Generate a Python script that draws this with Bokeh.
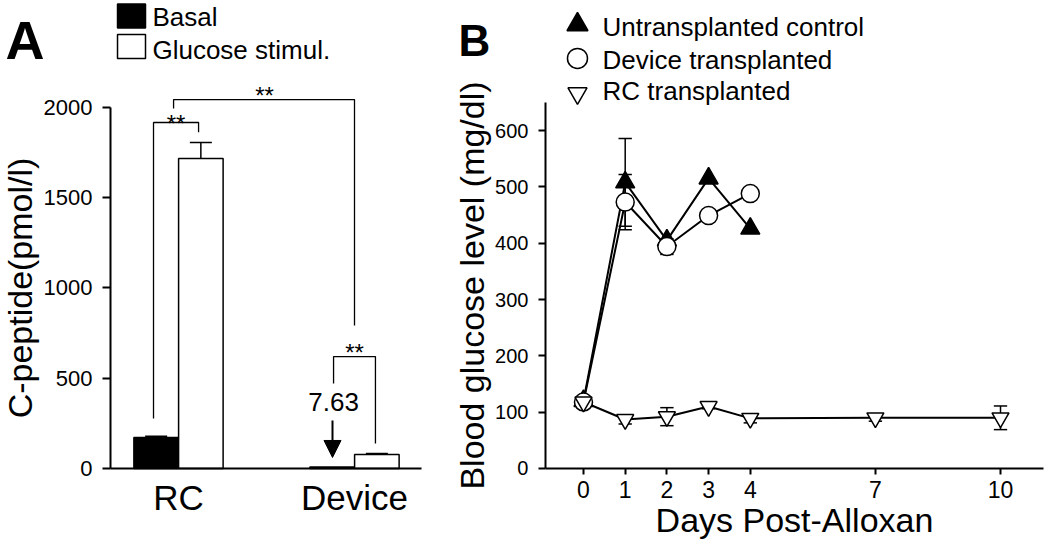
from bokeh.plotting import figure
from bokeh.layouts import row
from bokeh.models import Range1d, FixedTicker, Arrow, NormalHead
from bokeh.core.properties import value
from bokeh.embed import file_html
from bokeh.resources import INLINE

FONT = "Liberation Sans"

# ---------------- Panel A data ----------------
groups = ["RC", "Device"]
group_pos = [1, 2]
basal = [172, 7.63]
basal_err = [6, 0]
glucose = [1717, 78]
glucose_err = [89, 5]
a_yticks = [0, 500, 1000, 1500, 2000]
basal_label = "7.63"

# ---------------- Panel B data ----------------
days_ctrl = [0, 1, 2, 3, 4]
ctrl = [120, 508, 405, 515, 426]
ctrl_err = [0, 78, 0, 0, 0]
days_dev = [0, 1, 2, 3, 4]
dev = [118, 473, 394, 449, 488]
dev_err = [0, 49, 14, 0, 0]
days_rc = [0, 1, 2, 3, 4, 7, 10]
rc = [118, 87, 92, 110, 89, 90, 90]
rc_err = [5, 8, 16, 4, 8, 6, 21]
b_xticks = [0, 1, 2, 3, 4, 7, 10]
b_yticks = [0, 100, 200, 300, 400, 500, 600]

H = 549

def style_common(p):
    p.outline_line_color = None
    p.xgrid.visible = False
    p.ygrid.visible = False
    p.background_fill_color = "white"
    p.border_fill_color = "white"
    p.min_border = 0
    p.min_border_left = 0
    p.min_border_right = 0
    p.min_border_top = 0
    p.min_border_bottom = 0
    for ax in p.axis:
        ax.axis_line_width = 2
        ax.axis_line_color = "black"
        ax.major_tick_line_width = 2
        ax.major_tick_line_color = "black"
        ax.minor_tick_line_color = None
        ax.major_tick_in = 0
        ax.major_label_text_font = FONT
        ax.major_label_text_color = "black"
        ax.axis_label_text_font = FONT
        ax.axis_label_text_font_style = "normal"
        ax.axis_label_text_color = "black"

# ================= Panel A =================
pA = figure(width=440, height=H, output_backend="svg", toolbar_location=None,
            x_range=Range1d(-0.01136, 2.4886), y_range=Range1d(-448.8, 2592.8))
style_common(pA)

off = 0.127
bw = 0.253
xb = [g - off for g in group_pos]
xg = [g + off for g in group_pos]
pA.vbar(x=xb, top=basal, width=bw, fill_color="black", line_color="black", line_width=1.5)
pA.vbar(x=xg, top=glucose, width=bw, fill_color="white", line_color="black", line_width=1.5)

# error bars (upward)
cap = 0.0625
ex, ey0, ey1 = [], [], []
cx0, cx1, cy = [], [], []
for xs, vals, errs in ((xb, basal, basal_err), (xg, glucose, glucose_err)):
    for x, v, e in zip(xs, vals, errs):
        if e > 0:
            ex.append(x); ey0.append(v); ey1.append(v + e)
            cx0.append(x - cap); cx1.append(x + cap); cy.append(v + e)
pA.segment(x0=ex, y0=ey0, x1=ex, y1=ey1, line_color="black", line_width=1.5)
pA.segment(x0=cx0, y0=cy, x1=cx1, y1=cy, line_color="black", line_width=1.5)

# significance brackets
br_xs = [[0.858, 0.858, 1.114, 1.114],
         [0.972, 0.972, 2.0, 2.0],
         [1.881, 1.881, 2.119, 2.119]]
br_ys = [[277, 1917, 1917, 1863],
         [1995, 2044, 2044, 792],
         [471, 620, 620, 138]]
pA.multi_line(xs=br_xs, ys=br_ys, line_color="black", line_width=1.3)
pA.text(x=[0.986, 1.489, 2.0], y=[1914, 2064, 640], text=["**", "**", "**"],
        text_font=value(FONT), text_font_size="24px", text_align="center",
        text_baseline="middle", text_color="black")

# arrow + value label for the tiny basal bar
pA.add_layout(Arrow(end=NormalHead(size=17, fill_color="black", line_color="black"),
                    x_start=1.875, y_start=266, x_end=1.875, y_end=61,
                    line_color="black", line_width=2))
pA.text(x=[1.881], y=[366], text=[basal_label], text_font=value(FONT),
        text_font_size="26px", text_align="center", text_baseline="middle",
        text_color="black")

# legend A
pA.rect(x=[0.733, 0.733], y=[2507, 2338], width=0.159, height=133,
        fill_color=["black", "white"], line_color="black", line_width=1.5)
pA.text(x=[0.852, 0.852], y=[2499, 2321], text=["Basal", "Glucose stimul."],
        text_font=value(FONT), text_font_size="26px", text_baseline="middle",
        text_color="black")

# panel letter
pA.text(x=[0.017], y=[2374], text=["A"], text_font=value(FONT), text_font_size="54px",
        text_font_style="bold", text_color="black", text_baseline="middle")

pA.yaxis.fixed_location = 0.6136
pA.yaxis.ticker = FixedTicker(ticks=a_yticks)
pA.yaxis.bounds = (0, 2000)
pA.yaxis.major_tick_out = 8
pA.yaxis.major_label_standoff = 10
pA.yaxis.major_label_text_font_size = "22px"
pA.yaxis.axis_label = "C-peptide(pmol/l)"
pA.yaxis.axis_label_text_font_size = "34px"
pA.yaxis.axis_label_standoff = 2

pA.xaxis.fixed_location = 0
pA.xaxis.ticker = FixedTicker(ticks=group_pos)
pA.xaxis.major_label_overrides = {1: groups[0], 2: groups[1]}
pA.xaxis.bounds = (0.6136, 2.38)
pA.xaxis.major_tick_out = 0
pA.xaxis.major_label_standoff = 10
pA.xaxis.major_label_text_font_size = "35px"

# ================= Panel B =================
pB = figure(width=610, height=H, output_backend="svg", toolbar_location=None,
            x_range=Range1d(-3.429, 11.199), y_range=Range1d(-143.8, 830.8))
style_common(pB)

pB.line(days_ctrl, ctrl, line_color="black", line_width=2)
pB.line(days_dev, dev, line_color="black", line_width=2)
pB.line(days_rc, rc, line_color="black", line_width=2)

bcap = 0.16
sx, sy0, sy1, kx0, kx1, ky = [], [], [], [], [], []
for ds, vals, errs in ((days_ctrl, ctrl, ctrl_err), (days_dev, dev, dev_err), (days_rc, rc, rc_err)):
    for d, v, e in zip(ds, vals, errs):
        if e > 0:
            sx.append(d); sy0.append(v - e); sy1.append(v + e)
            kx0 += [d - bcap, d - bcap]; kx1 += [d + bcap, d + bcap]; ky += [v - e, v + e]
pB.segment(x0=sx, y0=sy0, x1=sx, y1=sy1, line_color="black", line_width=1.5)
pB.segment(x0=kx0, y0=ky, x1=kx1, y1=ky, line_color="black", line_width=1.5)

pB.scatter(days_ctrl, ctrl, marker="triangle", size=19, fill_color="black", line_color="black", line_width=1.5)
pB.scatter(days_dev, dev, marker="circle", size=18, fill_color="white", line_color="black", line_width=1.5)
pB.scatter(days_rc, rc, marker="inverted_triangle", size=17, fill_color="white", line_color="black", line_width=1.5)

# legend B
pB.scatter([-0.144], [788], marker="triangle", size=21, fill_color="black", line_color="black", line_width=1.5)
pB.scatter([-0.144], [728], marker="circle", size=20, fill_color="white", line_color="black", line_width=1.5)
pB.scatter([-0.144], [666], marker="inverted_triangle", size=19, fill_color="white", line_color="black", line_width=1.5)
pB.text(x=[0.456, 0.456, 0.456], y=[783, 726, 671],
        text=["Untransplanted control", "Device transplanted", "RC transplanted"],
        text_font=value(FONT), text_font_size="26px", text_baseline="middle", text_color="black")

pB.text(x=[-2.998], y=[760], text=["B"], text_font=value(FONT), text_font_size="44px",
        text_font_style="bold", text_color="black", text_baseline="middle")

pB.yaxis.fixed_location = -0.9113
pB.yaxis.ticker = FixedTicker(ticks=b_yticks)
pB.yaxis.bounds = (0, 650)
pB.yaxis.major_tick_out = 7
pB.yaxis.major_label_standoff = 10
pB.yaxis.major_label_text_font_size = "20px"
pB.yaxis.axis_label = "Blood glucose level (mg/dl)"
pB.yaxis.axis_label_text_font_size = "34px"
pB.yaxis.axis_label_standoff = 1

pB.xaxis.fixed_location = 0
pB.xaxis.bounds = (-0.9113, 11.031)
pB.xaxis.ticker = FixedTicker(ticks=b_xticks)
pB.xaxis.major_tick_out = 6
pB.xaxis.major_label_standoff = 7
pB.xaxis.major_label_text_font_size = "23px"
pB.xaxis.axis_label = "Days Post-Alloxan"
pB.xaxis.axis_label_text_font_size = "34px"
pB.xaxis.axis_label_standoff = -1

layout = row(pA, pB, spacing=0)
open("out.html", "w").write(file_html(layout, INLINE))
